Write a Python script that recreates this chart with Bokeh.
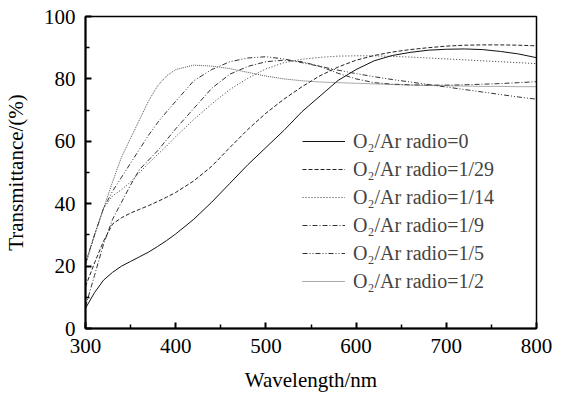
from bokeh.plotting import figure
from bokeh.models import Legend, LegendItem, Range1d, FixedTicker
from bokeh.embed import file_html
from bokeh.resources import INLINE

wavelength = [300, 310, 320, 330, 340, 350, 360, 370, 380, 390, 400, 420, 440, 460, 480, 500,
              520, 540, 560, 580, 600, 620, 640, 660, 680, 700, 720, 740, 760, 780, 800]

r_0 = [6.5, 11.5, 15.5, 18, 20, 21.5, 23, 24.5, 26.3, 28.2, 30.3, 35, 40.5, 46.5, 52.5, 58,
       63.5, 69.5, 74.5, 79.5, 83, 85.8, 87.5, 88.5, 89.2, 89.5, 89.6, 89.4, 88.8, 88, 86.8]
r_1_29 = [13.5, 21, 28, 33.5, 35.5, 37, 38.2, 39.4, 40.7, 42.1, 43.6, 47.3, 52, 58, 63.8, 69,
          73.5, 77.5, 81, 83.8, 86, 87.5, 88.6, 89.4, 90, 90.5, 90.8, 90.9, 90.9, 90.8, 90.6]
r_1_14 = [20, 30, 38.5, 42.5, 44.5, 47, 50, 53, 55.8, 58.5, 61.5, 67, 72, 76.6, 80.2, 83.2,
          85.2, 86.3, 86.9, 87.3, 87.4, 87.4, 87.2, 87, 86.7, 86.4, 86.1, 85.8, 85.5, 85.2, 84.9]
r_1_9 = [7, 17, 27, 35, 40.5, 46, 51, 54, 57, 60.5, 64, 70.5, 77, 81.5, 84, 85.5,
         86, 85.5, 84, 81.8, 80, 78.8, 78.3, 78.1, 78, 78, 78.1, 78.3, 78.5, 78.8, 79.1]
r_1_5 = [21, 30, 38.5, 44, 48.5, 53, 57.5, 62, 66, 69.5, 72.8, 79.4, 83, 85.5, 86.7, 87.1,
         86.4, 85.2, 84, 82.8, 81.7, 80.7, 79.8, 79, 78.2, 77.4, 76.6, 75.8, 75, 74.2, 73.5]
r_1_2 = [21, 30, 38.5, 47, 55, 61, 67, 73, 77.8, 81, 83, 84.4, 84.1, 83.3, 82.1, 80.9,
         80, 79.4, 79, 78.8, 78.6, 78.4, 78.2, 78, 77.9, 77.8, 77.7, 77.6, 77.6, 77.5, 77.5]

labels = ["O\u2082/Ar radio=0", "O\u2082/Ar radio=1/29", "O\u2082/Ar radio=1/14",
          "O\u2082/Ar radio=1/9", "O\u2082/Ar radio=1/5", "O\u2082/Ar radio=1/2"]
series = [r_0, r_1_29, r_1_14, r_1_9, r_1_5, r_1_2]
dashes = ["solid", "4 2", "1 2", "5 2 1 2", "5 2 1 2 1 2", "1 1"]
colors = ["#111111", "#222222", "#333333", "#333333", "#333333", "#555555"]

FONT = "Liberation Serif"

p = figure(width=561, height=394, output_backend="svg", toolbar_location=None,
           x_range=Range1d(300, 800), y_range=Range1d(0, 100),
           min_border_left=81, min_border_right=25, min_border_top=16, min_border_bottom=66)
p.grid.visible = False
p.outline_line_color = "black"
p.outline_line_width = 1.5
p.background_fill_color = "white"
p.border_fill_color = "white"

items = []
for lab, ys, d, c in zip(labels, series, dashes, colors):
    r = p.line(wavelength, ys, line_color=c, line_width=1, line_dash=d)
    items.append(LegendItem(label=lab, renderers=[r]))

legend = Legend(items=items, location=(217, 35), orientation="vertical",
                label_text_font=FONT, label_text_font_size="20px",
                glyph_width=43, glyph_height=24, label_height=24, spacing=4,
                label_standoff=8, padding=0, margin=0,
                border_line_alpha=0, background_fill_alpha=0)
p.add_layout(legend, "center")

for ax in (p.xaxis[0], p.yaxis[0]):
    ax.axis_line_width = 2
    ax.major_tick_in = 6
    ax.major_tick_out = 0
    ax.minor_tick_in = 4
    ax.minor_tick_out = 0
    ax.major_tick_line_width = 2
    ax.minor_tick_line_width = 1.5
    ax.major_label_text_font = FONT
    ax.major_label_text_font_size = "21px"
    ax.major_label_text_color = "black"
    ax.axis_label_text_font = FONT
    ax.axis_label_text_font_size = "21px"
    ax.axis_label_text_font_style = "normal"
    ax.axis_label_text_color = "black"
    ax.major_label_standoff = 10

p.xaxis[0].ticker = FixedTicker(ticks=[300, 400, 500, 600, 700, 800],
                                minor_ticks=[350, 450, 550, 650, 750])
p.yaxis[0].ticker = FixedTicker(ticks=[0, 20, 40, 60, 80, 100],
                                minor_ticks=[10, 30, 50, 70, 90])
p.xaxis[0].axis_label = "Wavelength/nm"
p.yaxis[0].axis_label = "Transmittance/(%)"
p.xaxis[0].axis_label_standoff = 12
p.yaxis[0].axis_label_standoff = 13

open("out.html", "w").write(file_html(p, INLINE))
